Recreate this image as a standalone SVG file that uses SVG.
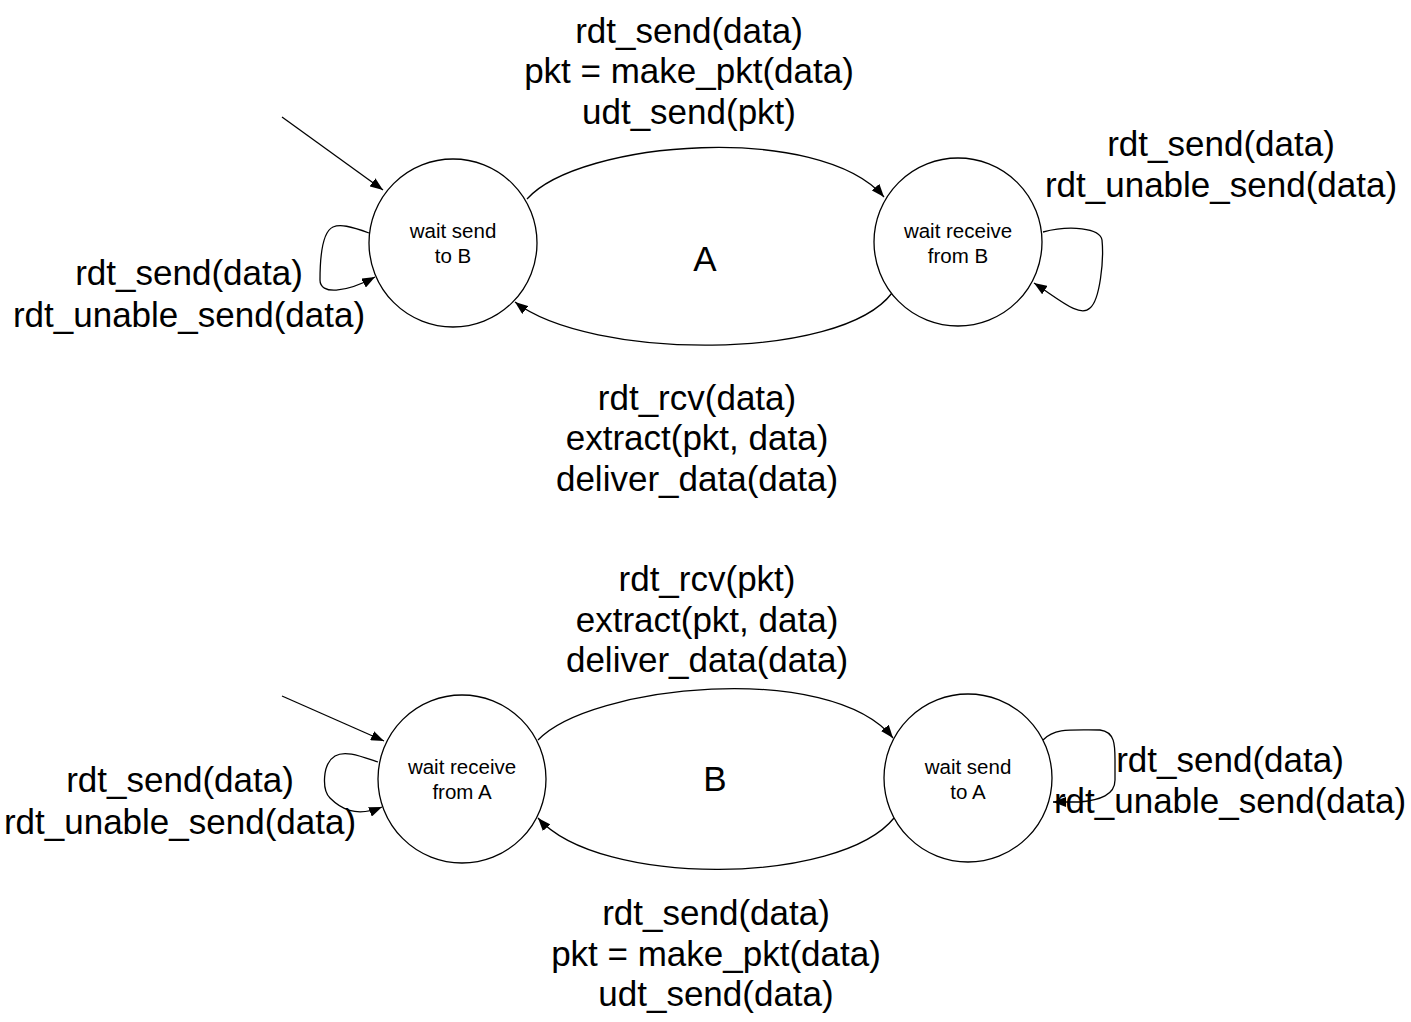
<svg xmlns="http://www.w3.org/2000/svg" width="1411" height="1022" viewBox="0 0 1411 1022">
<style>
.st{fill:#fff;stroke:#000;stroke-width:1.3}
.in{font-family:"Liberation Sans",Arial,sans-serif;font-size:20.5px;fill:#000;text-anchor:middle}
.lb{font-family:"Liberation Sans",Arial,sans-serif;font-size:35px;fill:#000;text-anchor:middle}
.c{fill:none;stroke:#000;stroke-width:1.3;marker-end:url(#ah)}
</style>
<defs>
<marker id="ah" viewBox="0 0 13 10" refX="13" refY="5" markerWidth="13" markerHeight="10" markerUnits="userSpaceOnUse" orient="auto">
<path d="M0,0 L13,5 L0,10 Z" fill="#000"/>
</marker>
</defs>
<rect width="1411" height="1022" fill="#fff"/>
<g id="connectors">
<path class="c" d="M282,117 L383,190"/>
<path class="c" d="M527,199 C 580,140 820,122 884,197"/>
<path class="c" d="M892,293 C 840,362 590,360 515,302"/>
<path class="c" d="M369,233 C 350,226 340,224 333,227 C 322,232 320,260 320,280 C 320,295 345,293 375,277"/>
<path class="c" d="M1043,232 C 1070,225 1100,228 1102,240 C 1104,260 1100,300 1090,308 C 1080,318 1060,300 1034,283"/>
<path class="c" d="M282,696 L384,741"/>
<path class="c" d="M538,740 C 590,685 830,660 893,738"/>
<path class="c" d="M894,818 C 840,885 600,888 538,818"/>
<path class="c" d="M378,762 C 360,756 345,750 335,756 C 322,764 322,790 330,798 C 340,808 355,818 382,807"/>
<path class="c" d="M1043,740 C 1055,728 1070,730 1100,730 C 1115,732 1115,745 1115,760 L 1115,780 C 1115,795 1100,800 1080,802 L 1053,802"/>
</g>
<g id="nodeA1"><circle class="st" cx="453" cy="243" r="84"/><text class="in" x="453" y="238">wait send</text><text class="in" x="453" y="263">to B</text></g>
<g id="nodeA2"><circle class="st" cx="958" cy="242" r="84"/><text class="in" x="958" y="238">wait receive</text><text class="in" x="958" y="263">from B</text></g>
<g id="nodeB1"><circle class="st" cx="462" cy="779" r="84"/><text class="in" x="462" y="774">wait receive</text><text class="in" x="462" y="799">from A</text></g>
<g id="nodeB2"><circle class="st" cx="968" cy="778" r="84"/><text class="in" x="968" y="774">wait send</text><text class="in" x="968" y="799">to A</text></g>
<g id="labels">
<text class="lb" x="689" y="43">rdt_send(data)</text>
<text class="lb" x="689" y="83">pkt = make_pkt(data)</text>
<text class="lb" x="689" y="124">udt_send(pkt)</text>
<text class="lb" x="1221" y="156">rdt_send(data)</text>
<text class="lb" x="1221" y="197">rdt_unable_send(data)</text>
<text class="lb" x="189" y="285">rdt_send(data)</text>
<text class="lb" x="189" y="327">rdt_unable_send(data)</text>
<text class="lb" x="705" y="271">A</text>
<text class="lb" x="697" y="410">rdt_rcv(data)</text>
<text class="lb" x="697" y="450">extract(pkt, data)</text>
<text class="lb" x="697" y="491">deliver_data(data)</text>
<text class="lb" x="707" y="591">rdt_rcv(pkt)</text>
<text class="lb" x="707" y="632">extract(pkt, data)</text>
<text class="lb" x="707" y="672">deliver_data(data)</text>
<text class="lb" x="180" y="792">rdt_send(data)</text>
<text class="lb" x="180" y="834">rdt_unable_send(data)</text>
<text class="lb" x="1230" y="772">rdt_send(data)</text>
<text class="lb" x="1230" y="813">rdt_unable_send(data)</text>
<text class="lb" x="715" y="791">B</text>
<text class="lb" x="716" y="925">rdt_send(data)</text>
<text class="lb" x="716" y="966">pkt = make_pkt(data)</text>
<text class="lb" x="716" y="1006">udt_send(data)</text>
</g>
</svg>
